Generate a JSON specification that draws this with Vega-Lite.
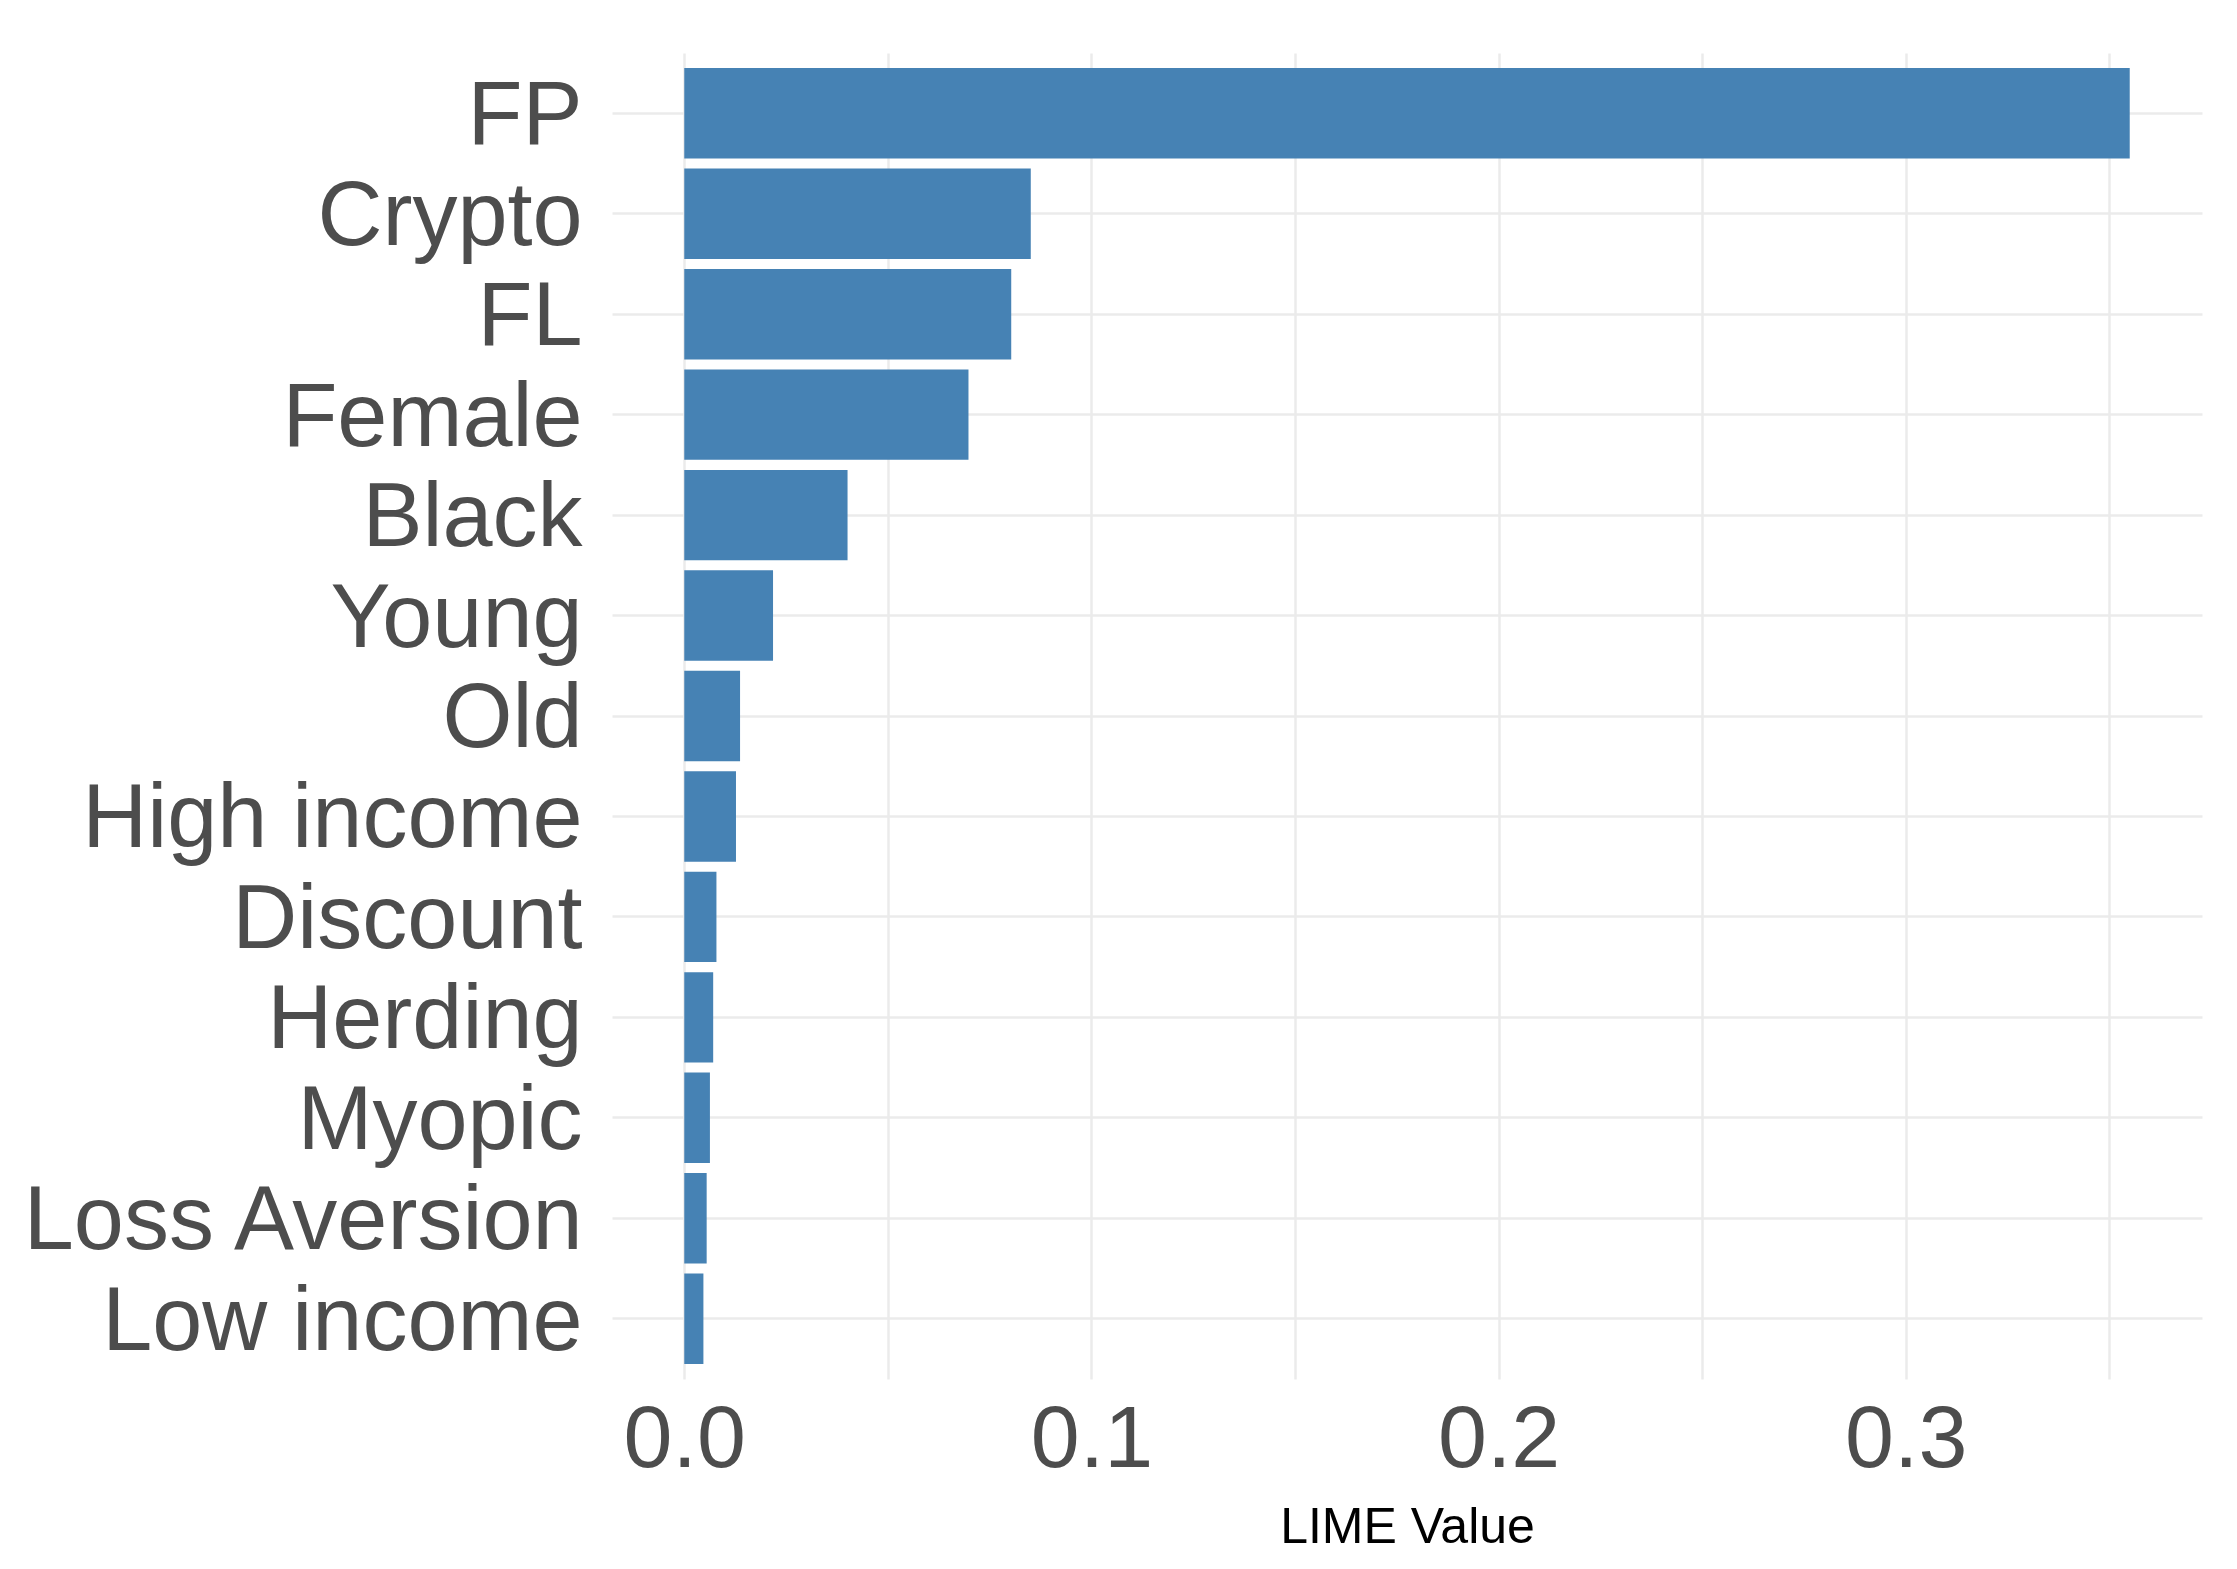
{
  "$schema": "https://vega.github.io/schema/vega-lite/v6.json",
  "width": 1590,
  "height": 1326,
  "autosize": {"type": "none"},
  "padding": {"left": 612, "top": 53, "right": 35, "bottom": 190},
  "background": "white",
  "config": {
    "view": {"stroke": null},
    "font": "Liberation Sans"
  },
  "data": {
    "values": [
      {"feature": "FP", "value": 0.355},
      {"feature": "Crypto", "value": 0.0851},
      {"feature": "FL", "value": 0.0803},
      {"feature": "Female", "value": 0.0698},
      {"feature": "Black", "value": 0.0401},
      {"feature": "Young", "value": 0.0218},
      {"feature": "Old", "value": 0.0137},
      {"feature": "High income", "value": 0.0127},
      {"feature": "Discount", "value": 0.0079},
      {"feature": "Herding", "value": 0.0071},
      {"feature": "Myopic", "value": 0.0063},
      {"feature": "Loss Aversion", "value": 0.0055},
      {"feature": "Low income", "value": 0.0047}
    ]
  },
  "mark": {"type": "bar", "color": "#4682B4"},
  "encoding": {
    "y": {
      "field": "feature",
      "type": "nominal",
      "sort": null,
      "scale": {"paddingInner": 0.1, "paddingOuter": 0.15},
      "axis": {
        "title": null,
        "domain": false,
        "ticks": false,
        "tickSize": 0,
        "labelPadding": 30,
        "labelLimit": 0,
        "labelFontSize": 90,
        "labelOffset": 4,
        "labelColor": "#4D4D4D",
        "labelAlign": "right",
        "labelBaseline": "middle",
        "grid": true,
        "bandPosition": 0.5,
        "gridColor": "#EBEBEB",
        "gridWidth": 2.5
      }
    },
    "x": {
      "field": "value",
      "type": "quantitative",
      "scale": {"domain": [-0.01775, 0.37275], "nice": false, "zero": false},
      "axis": {
        "title": "LIME Value",
        "titleFontSize": 50,
        "titleFontWeight": "normal",
        "titleColor": "#000000",
        "titlePadding": 18,
        "values": [0, 0.05, 0.1, 0.15, 0.2, 0.25, 0.3, 0.35],
        "labelExpr": "abs(datum.value * 10 - round(datum.value * 10)) < 0.01 ? format(datum.value, '.1f') : ''",
        "domain": false,
        "ticks": false,
        "tickSize": 0,
        "labelPadding": 17,
        "labelFontSize": 88,
        "labelColor": "#4D4D4D",
        "labelFlush": false,
        "grid": true,
        "gridColor": "#EBEBEB",
        "gridWidth": 2.5
      }
    }
  }
}
